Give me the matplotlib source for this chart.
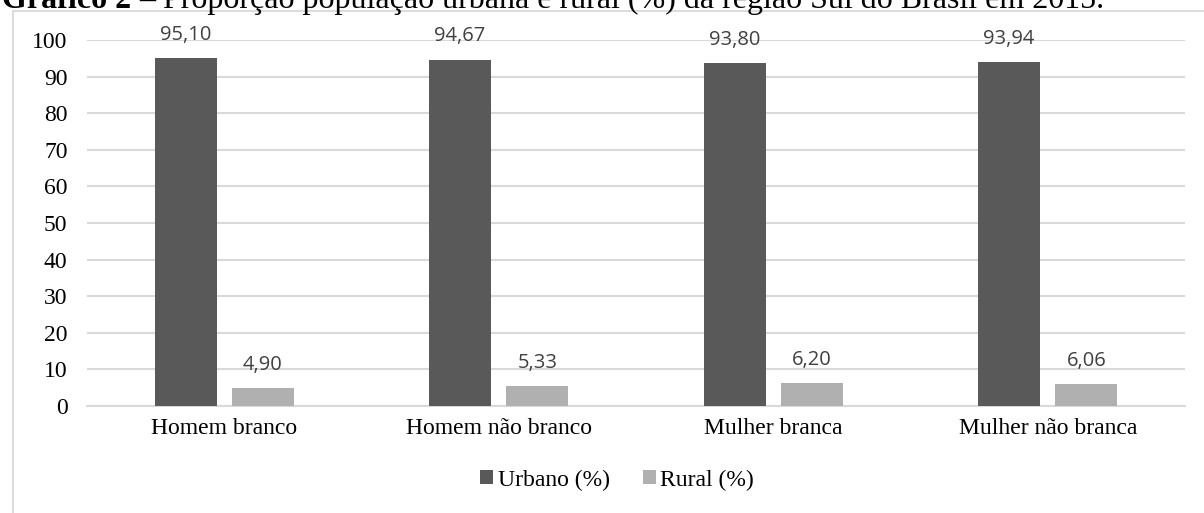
import matplotlib
matplotlib.use("Agg")
import matplotlib.pyplot as plt
import numpy as np
from matplotlib.patches import Rectangle

categorias = ["Homem branco", "Homem não branco", "Mulher branca", "Mulher não branca"]
urbano = [95.10, 94.67, 93.80, 93.94]
rural = [4.90, 5.33, 6.20, 6.06]
series = ["Urbano (%)", "Rural (%)"]
yticks = [0, 10, 20, 30, 40, 50, 60, 70, 80, 90, 100]

cor_urb = "#595959"
cor_rur = "#b0b0b0"
grade = "#d9d9d9"
serif = "Liberation Serif"
sans = ["Open Sans", "DejaVu Sans"]

fig = plt.figure(figsize=(12.04, 5.13), dpi=100)

# moldura do gráfico (cortada à direita e embaixo)
fig.patches.append(Rectangle((13 / 1204, -0.1), 1.2, 1 - 11 / 513 + 0.1,
                             transform=fig.transFigure, fill=False,
                             edgecolor=grade, lw=1.3))

# título (aparece cortado no topo, como na imagem original)
t1 = fig.text(2 / 1204, 1 - 8 / 513, "Gráfico 2 ", fontsize=23, family=serif,
              weight="bold", va="baseline", ha="left")
r = fig.canvas.get_renderer()
bb = t1.get_window_extent(r)
fig.text(bb.x1 / 1204, 1 - 8 / 513,
         "– Proporção população urbana e rural (%) da região Sul do Brasil em 2015.",
         fontsize=23, family=serif, va="baseline", ha="left")

ax = fig.add_axes([87 / 1204, 1 - 406 / 513, (1185 - 87) / 1204, 366 / 513])
x = np.arange(len(categorias))
w = 0.226
b1 = ax.bar(x - 0.141, urbano, w, color=cor_urb, label=series[0], zorder=3)
b2 = ax.bar(x + 0.141, rural, w, color=cor_rur, label=series[1], zorder=3)

for barras, vals in [(b1, urbano), (b2, rural)]:
    for b, v in zip(barras, vals):
        ax.annotate(f"{v:.2f}".replace(".", ","),
                    (b.get_x() + b.get_width() / 2, v),
                    xytext=(0, 13), textcoords="offset points",
                    ha="center", va="baseline", fontsize=14.5,
                    family=sans, color="#404040", zorder=4)

ax.set_xlim(-0.5, len(categorias) - 0.5)
ax.set_ylim(0, 100)
ax.set_yticks(yticks)
ax.set_yticklabels([str(t) for t in yticks], family=serif, fontsize=17)
ax.set_xticks(x)
ax.set_xticklabels(categorias, family=serif, fontsize=17)
ax.tick_params(length=0)
ax.tick_params(axis="y", pad=14)
ax.tick_params(axis="x", pad=9)
ax.yaxis.grid(True, color=grade, lw=1.5, zorder=0)
for s in ["top", "right", "left"]:
    ax.spines[s].set_visible(False)
ax.spines["bottom"].set_color(grade)
ax.spines["bottom"].set_linewidth(1.5)

leg = fig.legend(loc="center", bbox_to_anchor=(617 / 1204, 1 - 480 / 513), ncol=2,
                 frameon=False, prop={"family": serif, "size": 17},
                 handlelength=0.55, handleheight=0.55, handletextpad=0.2,
                 columnspacing=1.4)

fig.savefig("out.png", dpi=100)
